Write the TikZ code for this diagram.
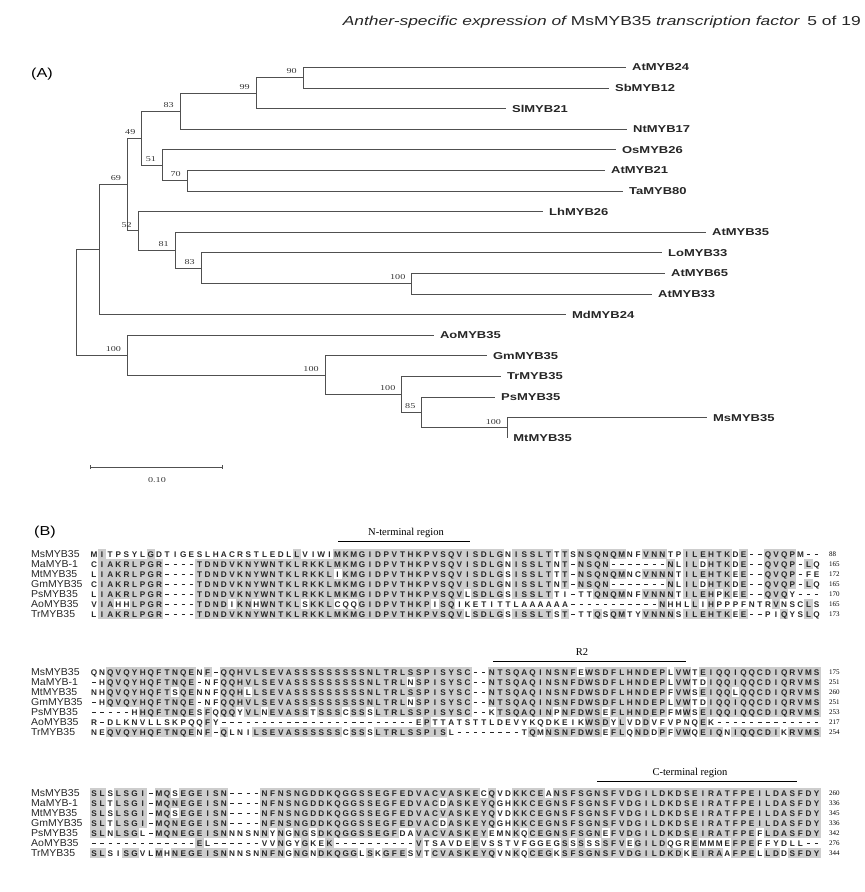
\documentclass[tikz,border=0pt]{standalone}
\usepackage{fontspec}
\setmainfont{Liberation Sans}
\newfontfamily\tms{Liberation Serif}
\usetikzlibrary{arrows.meta}
\definecolor{treegray}{RGB}{80,80,80}
\definecolor{alngray}{RGB}{205,205,205}

% one residue of the alignment, shaded when it matches the column majority
\newcommand\AlnChar{}
\newcommand\AlnGap{\rule[2.3pt]{3.4pt}{0.8pt}}
\newcommand\AlnCell[3]{%
  \ifnum#3=1
    \fill[alngray] ({94+(#2-1)*8.12-4.15},{\alny+(#1-1)*10-5.1}) rectangle ++(8.3,10.2);
  \fi
  \node[res] (r\alnid-#1-#2) at ({94+(#2-1)*8.12},{\alny+(#1-1)*10}) {\AlnChar};}

\ExplSyntaxOn
\seq_new:N \l_aln_rows_seq
\tl_new:N \l_aln_row_tl
\int_new:N \l_aln_cnt_int
\cs_new_protected:Npn \aln_cell:nn #1#2
  {
    \tl_set:Nx \AlnChar { \str_item:Nn \l_aln_row_tl {#2} }
    \int_zero:N \l_aln_cnt_int
    \str_if_eq:eeTF { \AlnChar } { - }
      { \tl_set:Nn \AlnChar { \AlnGap } }
      {
        \seq_map_inline:Nn \l_aln_rows_seq
          {
            \str_if_eq:eeT { \str_item:nn {##1} {#2} } { \AlnChar }
              { \int_incr:N \l_aln_cnt_int }
          }
      }
    \int_compare:nNnTF \l_aln_cnt_int > 3
      { \AlnCell {#1} {#2} {1} }
      { \AlnCell {#1} {#2} {0} }
  }
\NewDocumentCommand \AlnBlock { m }
  {
    \seq_set_from_clist:Nn \l_aln_rows_seq {#1}
    \int_step_inline:nn { \seq_count:N \l_aln_rows_seq }
      {
        \tl_set:Nx \l_aln_row_tl { \seq_item:Nn \l_aln_rows_seq {##1} }
        \int_step_inline:nn { \str_count:N \l_aln_row_tl }
          { \aln_cell:nn {##1} {####1} }
      }
  }
\ExplSyntaxOff

\begin{document}
\begin{tikzpicture}[x=1pt, y=-1pt,
    branch/.style={draw=treegray, line width=0.7pt},
    leaf/.style={anchor=west, inner xsep=4.5pt, inner ysep=0pt, text height=7.2pt, text depth=0pt,
      xscale=1.3, text=black!85, font=\fontsize{10}{12}\selectfont\bfseries},
    boot/.style={anchor=south east, inner sep=0pt, xscale=1.35, text=black!80,
      font=\fontsize{7.5}{9}\selectfont\tms},
    panel/.style={inner sep=0pt, xscale=1.25, font=\fontsize{13}{15}\selectfont},
    seqname/.style={anchor=west, inner sep=0pt, xscale=1.05, text=black!85,
      font=\fontsize{10}{12}\selectfont},
    res/.style={inner sep=0pt, text height=6pt, text depth=0pt, text=black!85,
      font=\fontsize{8.2}{9}\selectfont\bfseries},
    num/.style={anchor=west, inner sep=0pt, font=\fontsize{7}{8}\selectfont\tms},
    region/.style={inner sep=0pt, font=\fontsize{10.5}{12}\selectfont\tms}]
\useasboundingbox (0,0) rectangle (865,892);

% running head
\node[anchor=east, inner sep=0pt, xscale=1.34, text=black!85, font=\fontsize{13}{15}\selectfont] (head) at (861,22)
  {{\itshape Anther-specific expression of} MsMYB35 {\itshape transcription factor}\hspace{6pt}5 of 19};

% ---------------- (A) tree ----------------
\node[panel] (pA) at (42,74) {(A)};

% leaves
\foreach \nm/\xe/\k in {AtMYB24/626/0, SbMYB12/609/1, SlMYB21/506/2, NtMYB17/627/3,
    OsMYB26/616/4, AtMYB21/605/5, TaMYB80/623/6, LhMYB26/543/7, AtMYB35/706/8,
    LoMYB33/662/9, AtMYB65/665/10, AtMYB33/652/11, MdMYB24/566/12, AoMYB35/434/13,
    GmMYB35/487/14, TrMYB35/501/15, PsMYB35/495/16, MsMYB35/707/17, MtMYB35/507.3/18}
  \node[leaf] (\nm) at (\xe,{67.3+20.6*\k}) {\nm};

% internal nodes
\foreach \n/\x/\y in {n90/303/77.6, n99/256/93.05, n83a/180/111.1, n70/187/180.6,
    n51/162.3/165.2, n49/141.7/138.1, n100a/411.7/283.6, n83b/201/268.2, n81/175/250.1,
    n52/138/230.8, n69/127.3/184.5, n1/99.3/249.5, n100e/507.3/427.8, n85/421.7/412.3,
    n100d/401.7/394.3, n100c/325/375, n100b/127.3/355, root/76.7/302.3}
  \coordinate (\n) at (\x,\y);

% branches
\foreach \p/\c in {root/n1, root/n100b, n1/n69, n69/n49, n69/n52, n49/n83a, n49/n51,
    n83a/n99, n99/n90, n51/n70, n52/n81, n81/n83b, n83b/n100a,
    n100b/n100c, n100c/n100d, n100d/n85, n85/n100e}
  \draw[branch] (\p) |- (\c);
\foreach \p/\c in {n90/AtMYB24, n90/SbMYB12, n99/SlMYB21, n83a/NtMYB17, n51/OsMYB26,
    n70/AtMYB21, n70/TaMYB80, n52/LhMYB26, n81/AtMYB35, n83b/LoMYB33, n100a/AtMYB65,
    n100a/AtMYB33, n1/MdMYB24, n100b/AoMYB35, n100c/GmMYB35, n100d/TrMYB35,
    n85/PsMYB35, n100e/MsMYB35, n100e/MtMYB35}
  \draw[branch] (\p) |- (\c.west);

% bootstrap values
\foreach \n/\v in {n90/90, n99/99, n83a/83, n49/49, n51/51, n70/70, n69/69, n52/52,
    n81/81, n83b/83, n100a/100, n100b/100, n100c/100, n100d/100, n85/85, n100e/100}
  \node[boot, xshift=-4.5pt, yshift=3.5pt] (bs-\n) at (\n) {\v};

% scale bar
\coordinate (sbL) at (90,467);
\coordinate (sbR) at (223,467);
\draw[branch, {Bar[width=4pt]}-{Bar[width=4pt]}] (sbL) -- (sbR);
\node[boot, anchor=center] (sbval) at (157,480) {0.10};

% ---------------- (B) alignment ----------------
\node[panel] (pB) at (45,532) {(B)};

% sequence names and residue counts
\foreach \blk/\yy/\nums in {1/554/{88,165,172,165,170,165,173},
    2/672/{175,251,260,251,253,217,254}, 3/793/{260,336,345,336,342,276,344}} {
  \foreach \nm [count=\i] in {MsMYB35,MaMYB-1,MtMYB35,GmMYB35,PsMYB35,AoMYB35,TrMYB35}
    \node[seqname] (name\blk-\i) at (31,{\yy+(\i-1)*10}) {\nm};
  \foreach \v [count=\i] in \nums
    \node[num] (cnt\blk-\i) at (829,{\yy+(\i-1)*10}) {\v};
}

% region marks
\coordinate (ntL) at (338,541); \coordinate (ntR) at (470,541);
\draw[line width=0.7pt] (ntL) -- (ntR);
\node[region] (nterm) at (406,532.5) {N-terminal region};
\coordinate (r2L) at (493,661); \coordinate (r2R) at (686,661);
\draw[line width=0.7pt] (r2L) -- (r2R);
\node[region] (rtwo) at (582,652.5) {R2};
\coordinate (ctL) at (597,781); \coordinate (ctR) at (797,781);
\draw[line width=0.7pt] (ctL) -- (ctR);
\node[region] (cterm) at (690,772.5) {C-terminal region};

% residues
\def\alny{554}\def\alnid{1}
\AlnBlock{MITPSYLGDTIGESLHACRSTLEDLLVIWIMKMGIDPVTHKPVSQVISDLGNISSLTTTSNSQNQMNFVNNTPILEHTKDE--QVQPM--,
CIAKRLPGR----TDNDVKNYWNTKLRKKLMKMGIDPVTHKPVSQVISDLGNISSLTNT-NSQN-------NLILDHTKDE--QVQP-LQ,
LIAKRLPGR----TDNDVKNYWNTKLRKKLIKMGIDPVTHKPVSQVISDLGSISSLTTT-NSQNQMNCVNNNTILEHTKEE--QVQP-FE,
CIAKRLPGR----TDNDVKNYWNTKLRKKLMKMGIDPVTHKPVSQVISDLGNISSLTNT-NSQN-------NLILDHTKDE--QVQP-LQ,
LIAKRLPGR----TDNDVKNYWNTKLRKKLMKMGIDPVTHKPVSQVLSDLGSISSLTTI-TTQNQMNFVNNNTILEHPKEE--QVQY---,
VIAHHLPGR----TDNDIKNHWNTKLSKKLCQQGIDPVTHKPISQIKETITTLAAAAAA-----------NHHLLIHPPPFNTRVNSCLS,
LIAKRLPGR----TDNDVKNYWNTKLRKKLMKMGIDPVTHKPVSQVLSDLGSISSLTST-TTQSQMTYVNNNSILEHTKEE--PIQYSLQ}
\def\alny{672}\def\alnid{2}
\AlnBlock{QNQVQYHQFTNQENF-QQHVLSEVASSSSSSSSSNLTRLSSPISYSC--NTSQAQINSNFEWSDFLHNDEPLVWTEIQQIQQCDIQRVMS,
-HQVQYHQFTNQE-NFQQHVLSEVASSSSSSSSSNLTRLNSPISYSC--NTSQAQINSNFDWSDFLHNDEPLVWTDIQQIQQCDIQRVMS,
NHQVQYHQFTSQENNFQQHLLSEVASSSSSSSSSNLTRLSSPISYSC--NTSQAQINSNFDWSDFLHNDEPFVWSEIQQLQQCDIQRVMS,
-HQVQYHQFTNQE-NFQQHVLSEVASSSSSSSSSNLTRLNSPISYSC--NTSQAQINSNFDWSDFLHNDEPLVWTDIQQIQQCDIQRVMS,
-----HHQFTNQESFQQQYVLNEVASSTSSSCSSSLTRLSSPISYSC--KTSQAQINPNFDWSEFLHNDEPFMWSEIQQIQQCDIQRVMS,
R-DLKNVLLSKPQQFY------------------------EPTTATSTTLDEVYKQDKEIKWSDYLVDDVFVPNQEK-------------,
NEQVQYHQFTNQENF-QLNILSEVASSSSSSCSSSLTRLSSPISL--------TQMNSNFDWSEFLQNDDPFVWQEIQNIQQCDIKRVMS}
\def\alny{793}\def\alnid{3}
\AlnBlock{SLSLSGI-MQSEGEISN----NFNSNGDDKQGGSSEGFEDVACVASKECQVDKKCEANSFSGNSFVDGILDKDSEIRATFPEILDASFDY,
SLTLSGI-MQNEGEISN----NFNSNGDDKQGGSSEGFEDVACDASKEYQGHKKCEGNSFSGNSFVDGILDKDSEIRATFPEILDASFDY,
SLSLSGI-MQSEGEISN----NFNSNGDDKQGGSSEGFEDVACVASKEYQVDKKCEGNSFSGNSFVDGILDKDSEIRATFPEILDASFDY,
SLTLSGI-MQNEGEISN----NFNSNGDDKQGGSSEGFEDVACDASKEYQGHKKCEGNSFSGNSFVDGILDKDSEIRATFPEILDASFDY,
SLNLSGL-MQNEGEISNNNSNNYNGNGSDKQGGSSEGFDAVACVASKEYEMNKQCEGNSFSGNEFVDGILDKDSEIRATFPEFLDASFDY,
-------------EL------VVNGYGKEK----------VTSAVDEEVSSTVFGGEGSSSSSSFVEGILDQGREMMMEFPEFFYDLL--,
SLSISGVLMHNEGEISNNNSNNFNGNGNDKQGGLSKGFESVTCVASKEYQVNKQCEGKSFSGNSFVDGILDKDKEIRAAFPELLDDSFDY}
\end{tikzpicture}
\end{document}
